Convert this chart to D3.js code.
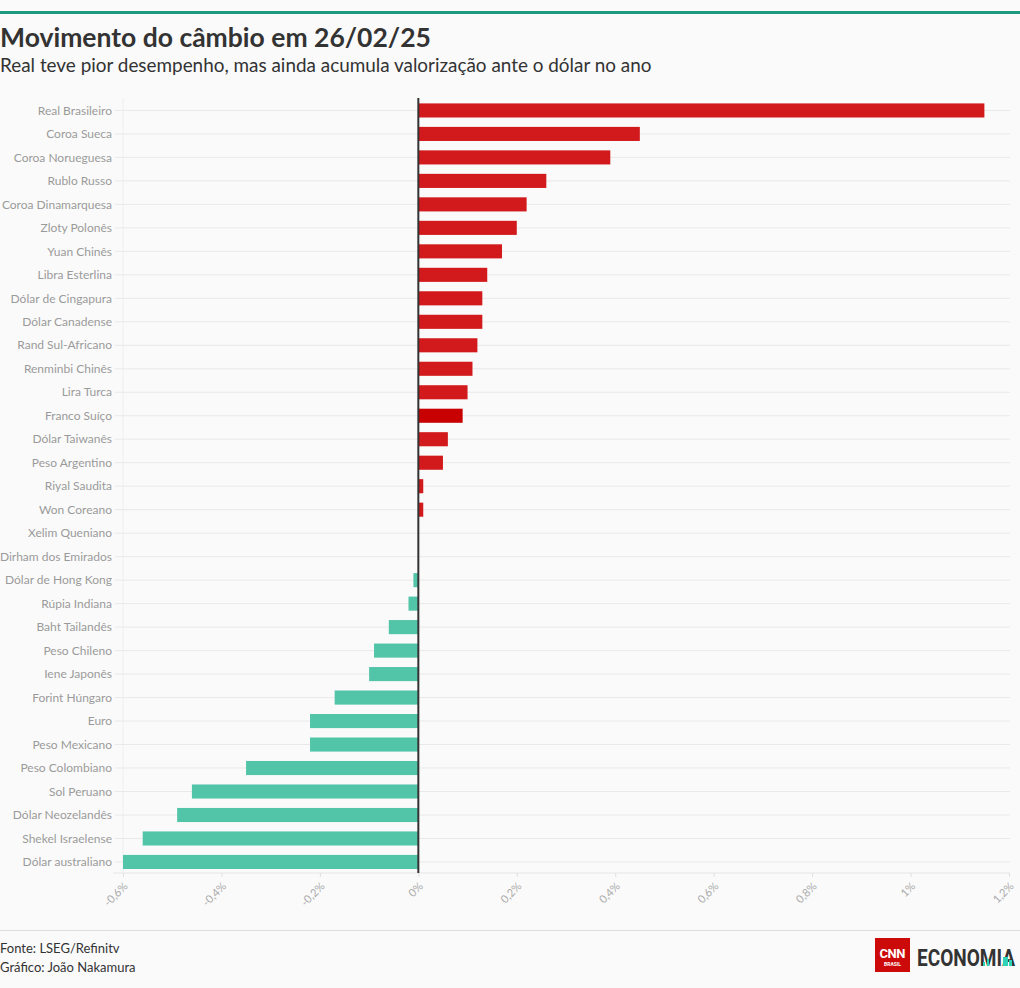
<!DOCTYPE html>
<html>
<head>
<meta charset="utf-8">
<script src="https://cdn.jsdelivr.net/npm/d3@7"></script>
<style>
  html, body { margin: 0; padding: 0; background: #fafafa; }
  svg { display: block; font-family: Lato, "Noto Sans", sans-serif; }
</style>
</head>
<body>
<svg id="chart" width="1020" height="988"></svg>
<script>
const categories = ["Real Brasileiro","Coroa Sueca","Coroa Norueguesa","Rublo Russo","Coroa Dinamarquesa","Zloty Polonês","Yuan Chinês","Libra Esterlina","Dólar de Cingapura","Dólar Canadense","Rand Sul-Africano","Renminbi Chinês","Lira Turca","Franco Suíço","Dólar Taiwanês","Peso Argentino","Riyal Saudita","Won Coreano","Xelim Queniano","Dirham dos Emirados","Dólar de Hong Kong","Rúpia Indiana","Baht Tailandês","Peso Chileno","Iene Japonês","Forint Húngaro","Euro","Peso Mexicano","Peso Colombiano","Sol Peruano","Dólar Neozelandês","Shekel Israelense","Dólar australiano"];
const values = [1.15,0.45,0.39,0.26,0.22,0.20,0.17,0.14,0.13,0.13,0.12,0.11,0.10,0.09,0.06,0.05,0.01,0.01,0,0,-0.01,-0.02,-0.06,-0.09,-0.10,-0.17,-0.22,-0.22,-0.35,-0.46,-0.49,-0.56,-0.60];
const tickValues = [-0.6,-0.4,-0.2,0,0.2,0.4,0.6,0.8,1.0,1.2];
const tickLabels = ["-0,6%","-0,4%","-0,2%","0%","0,2%","0,4%","0,6%","0,8%","1%","1,2%"];
const highlighted = ["Franco Suíço"];

const svg = d3.select("#chart");
const W = 1020;

// top rule
svg.append("rect").attr("x",0).attr("y",11).attr("width",W).attr("height",3).attr("fill","#1d9a7e");

svg.append("text").attr("x",0).attr("y",47).attr("font-size",26.5).attr("font-weight",700)
  .attr("fill","#333").text("Movimento do câmbio em 26/02/25");
svg.append("text").attr("x",0).attr("y",72).attr("font-size",18.9).attr("fill","#333")
  .text("Real teve pior desempenho, mas ainda acumula valorização ante o dólar no ano");

const x = d3.scaleLinear().domain([-0.6,1.2]).range([123,1009]);
const y = d3.scaleBand().domain(categories).range([98.7,873.7]).paddingInner(0.4).paddingOuter(0.2);

const g = svg.append("g");

// left plot edge
g.append("line").attr("x1",x(-0.6)).attr("x2",x(-0.6)).attr("y1",98).attr("y2",873)
  .attr("stroke","#eeeeee").attr("stroke-width",1);

// horizontal gridlines at row centers
g.selectAll(".grid").data(categories).enter().append("line")
  .attr("x1",115).attr("x2",1010)
  .attr("y1",d=>y(d)+y.bandwidth()/2).attr("y2",d=>y(d)+y.bandwidth()/2)
  .attr("stroke","#e9e9e9").attr("stroke-width",1);

// bars
g.selectAll(".bar").data(categories).enter().append("rect")
  .attr("x",(d,i)=>x(Math.min(0,values[i])))
  .attr("width",(d,i)=>Math.abs(x(values[i])-x(0)))
  .attr("y",d=>y(d)).attr("height",y.bandwidth())
  .attr("fill",(d,i)=> highlighted.includes(d) ? "#c80000" : (values[i] >= 0 ? "#d21a1c" : "#52c4a8"));

// category labels
g.selectAll(".lab").data(categories).enter().append("text")
  .attr("x",112).attr("y",d=>y(d)+y.bandwidth()/2).attr("dy","0.35em")
  .attr("text-anchor","end").attr("font-size",12).attr("fill","#9a9a9a").text(d=>d);

// x axis
const xAxis = d3.axisBottom(x).tickValues(tickValues).tickSize(4).tickFormat((d,i)=>tickLabels[i]);
const ax = g.append("g").attr("transform","translate(0,873)").call(xAxis);
ax.select(".domain").attr("stroke","#e6e6e6").attr("d","M113,0H1010");
ax.selectAll(".tick line").attr("stroke","#e0e0e0");
ax.selectAll(".tick text").attr("fill","#aaaaaa").attr("font-size",11)
  .attr("font-family","Lato, sans-serif")
  .attr("text-anchor","end").attr("dy",null).attr("y",null)
  .attr("transform","translate(5,14) rotate(-45)");

// zero line
g.append("line").attr("x1",x(0)).attr("x2",x(0)).attr("y1",98).attr("y2",873)
  .attr("stroke","#333").attr("stroke-width",2);

// footer
svg.append("line").attr("x1",0).attr("x2",W).attr("y1",930.5).attr("y2",930.5).attr("stroke","#dddddd");
svg.append("text").attr("x",0).attr("y",953).attr("font-size",13).attr("fill","#333").text("Fonte: LSEG/Refinitv");
svg.append("text").attr("x",0).attr("y",972).attr("font-size",13).attr("fill","#333").text("Gráfico: João Nakamura");

// logo
const logo = svg.append("g");
logo.append("rect").attr("x",875).attr("y",938).attr("width",35).attr("height",34).attr("fill","#cc0a0a");
logo.append("text").attr("x",892.5).attr("y",958).attr("text-anchor","middle").attr("font-size",13)
  .attr("font-weight",700).attr("fill","#fff").attr("font-family","Roboto, sans-serif").attr("textLength",26).text("CNN");
logo.append("text").attr("x",892.5).attr("y",966).attr("text-anchor","middle").attr("font-size",5)
  .attr("font-weight",700).attr("fill","#fff").attr("font-family","Roboto, sans-serif").text("BRASIL");
logo.append("text").attr("transform","translate(917,966) scale(1,1.3)").attr("font-size",18).attr("font-weight",700)
  .attr("fill","#333").attr("font-family","Roboto, sans-serif").attr("textLength",98).attr("lengthAdjust","spacingAndGlyphs").text("ECONOMIA");
[[983,962,2],[987,959,2],[1003,957,5],[1009,960,3]].forEach(p=>{
  logo.append("rect").attr("x",p[0]).attr("y",p[1]).attr("width",p[2]).attr("height",966-p[1]).attr("fill","#2ed3b7");
});
</script>
</body>
</html>
